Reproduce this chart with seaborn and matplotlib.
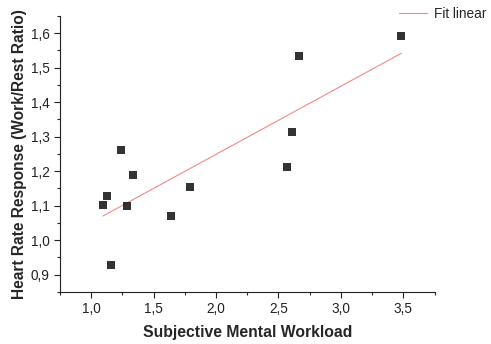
import matplotlib
matplotlib.use("Agg")
import matplotlib.pyplot as plt
from matplotlib.ticker import MultipleLocator, FuncFormatter
from matplotlib.lines import Line2D
import seaborn as sns
import pandas as pd

# Subjective workload vs. heart rate ratio per participant
workload = [1.094, 1.124, 1.240, 1.333, 1.285, 1.158, 1.639, 1.790, 3.485, 2.661, 2.606, 2.566]
hr_ratio = [1.102, 1.128, 1.263, 1.188, 1.100, 0.929, 1.071, 1.155, 1.593, 1.535, 1.315, 1.211]

x_label = "Subjective Mental Workload"
y_label = "Heart Rate Response (Work/Rest Ratio)"
fit_label = "Fit linear"

df = pd.DataFrame({"workload": workload, "hr_ratio": hr_ratio})

sns.set_style("ticks")
plt.rcParams["font.family"] = ["Liberation Sans", "DejaVu Sans"]

fig = plt.figure(figsize=(4.91, 3.44), dpi=100)
ax = fig.add_axes([0.1222, 0.1512, 0.7628, 0.8023])

fit_color = "#f08a8a"
sns.regplot(data=df, x="workload", y="hr_ratio", ax=ax, ci=None, truncate=True,
            marker="s",
            scatter_kws={"s": 26, "color": "black", "edgecolor": "black", "linewidths": 0, "zorder": 3},
            line_kws={"color": fit_color, "lw": 0.8, "zorder": 2})

ax.set_xlim(0.75, 3.75)
ax.set_ylim(0.85, 1.65)
ax.xaxis.set_major_locator(MultipleLocator(0.5))
ax.xaxis.set_minor_locator(MultipleLocator(0.25))
ax.yaxis.set_major_locator(MultipleLocator(0.1))
ax.yaxis.set_minor_locator(MultipleLocator(0.05))
comma = FuncFormatter(lambda v, p: f"{v:.1f}".replace(".", ","))
ax.xaxis.set_major_formatter(comma)
ax.yaxis.set_major_formatter(comma)

ax.tick_params(which="major", direction="out", length=4, width=0.8, labelsize=9.8, colors="#222222")
ax.tick_params(which="minor", direction="out", length=2.2, width=0.8)
for side in ("top", "right"):
    ax.spines[side].set_visible(False)
for side in ("left", "bottom"):
    ax.spines[side].set_linewidth(0.8)
    ax.spines[side].set_color("#222222")

ax.set_xlabel(x_label, fontsize=11.3, fontweight="bold", labelpad=6)
ax.set_ylabel(y_label, fontsize=11.2, fontweight="bold", labelpad=3)

handle = Line2D([], [], color=fit_color, lw=0.8)
fig.legend([handle], [fit_label], loc="upper right", bbox_to_anchor=(0.998, 0.992),
           frameon=False, fontsize=9.8, handlelength=2.1, handletextpad=0.45,
           borderaxespad=0.0, borderpad=0.3)

fig.savefig("out.png", dpi=100)
